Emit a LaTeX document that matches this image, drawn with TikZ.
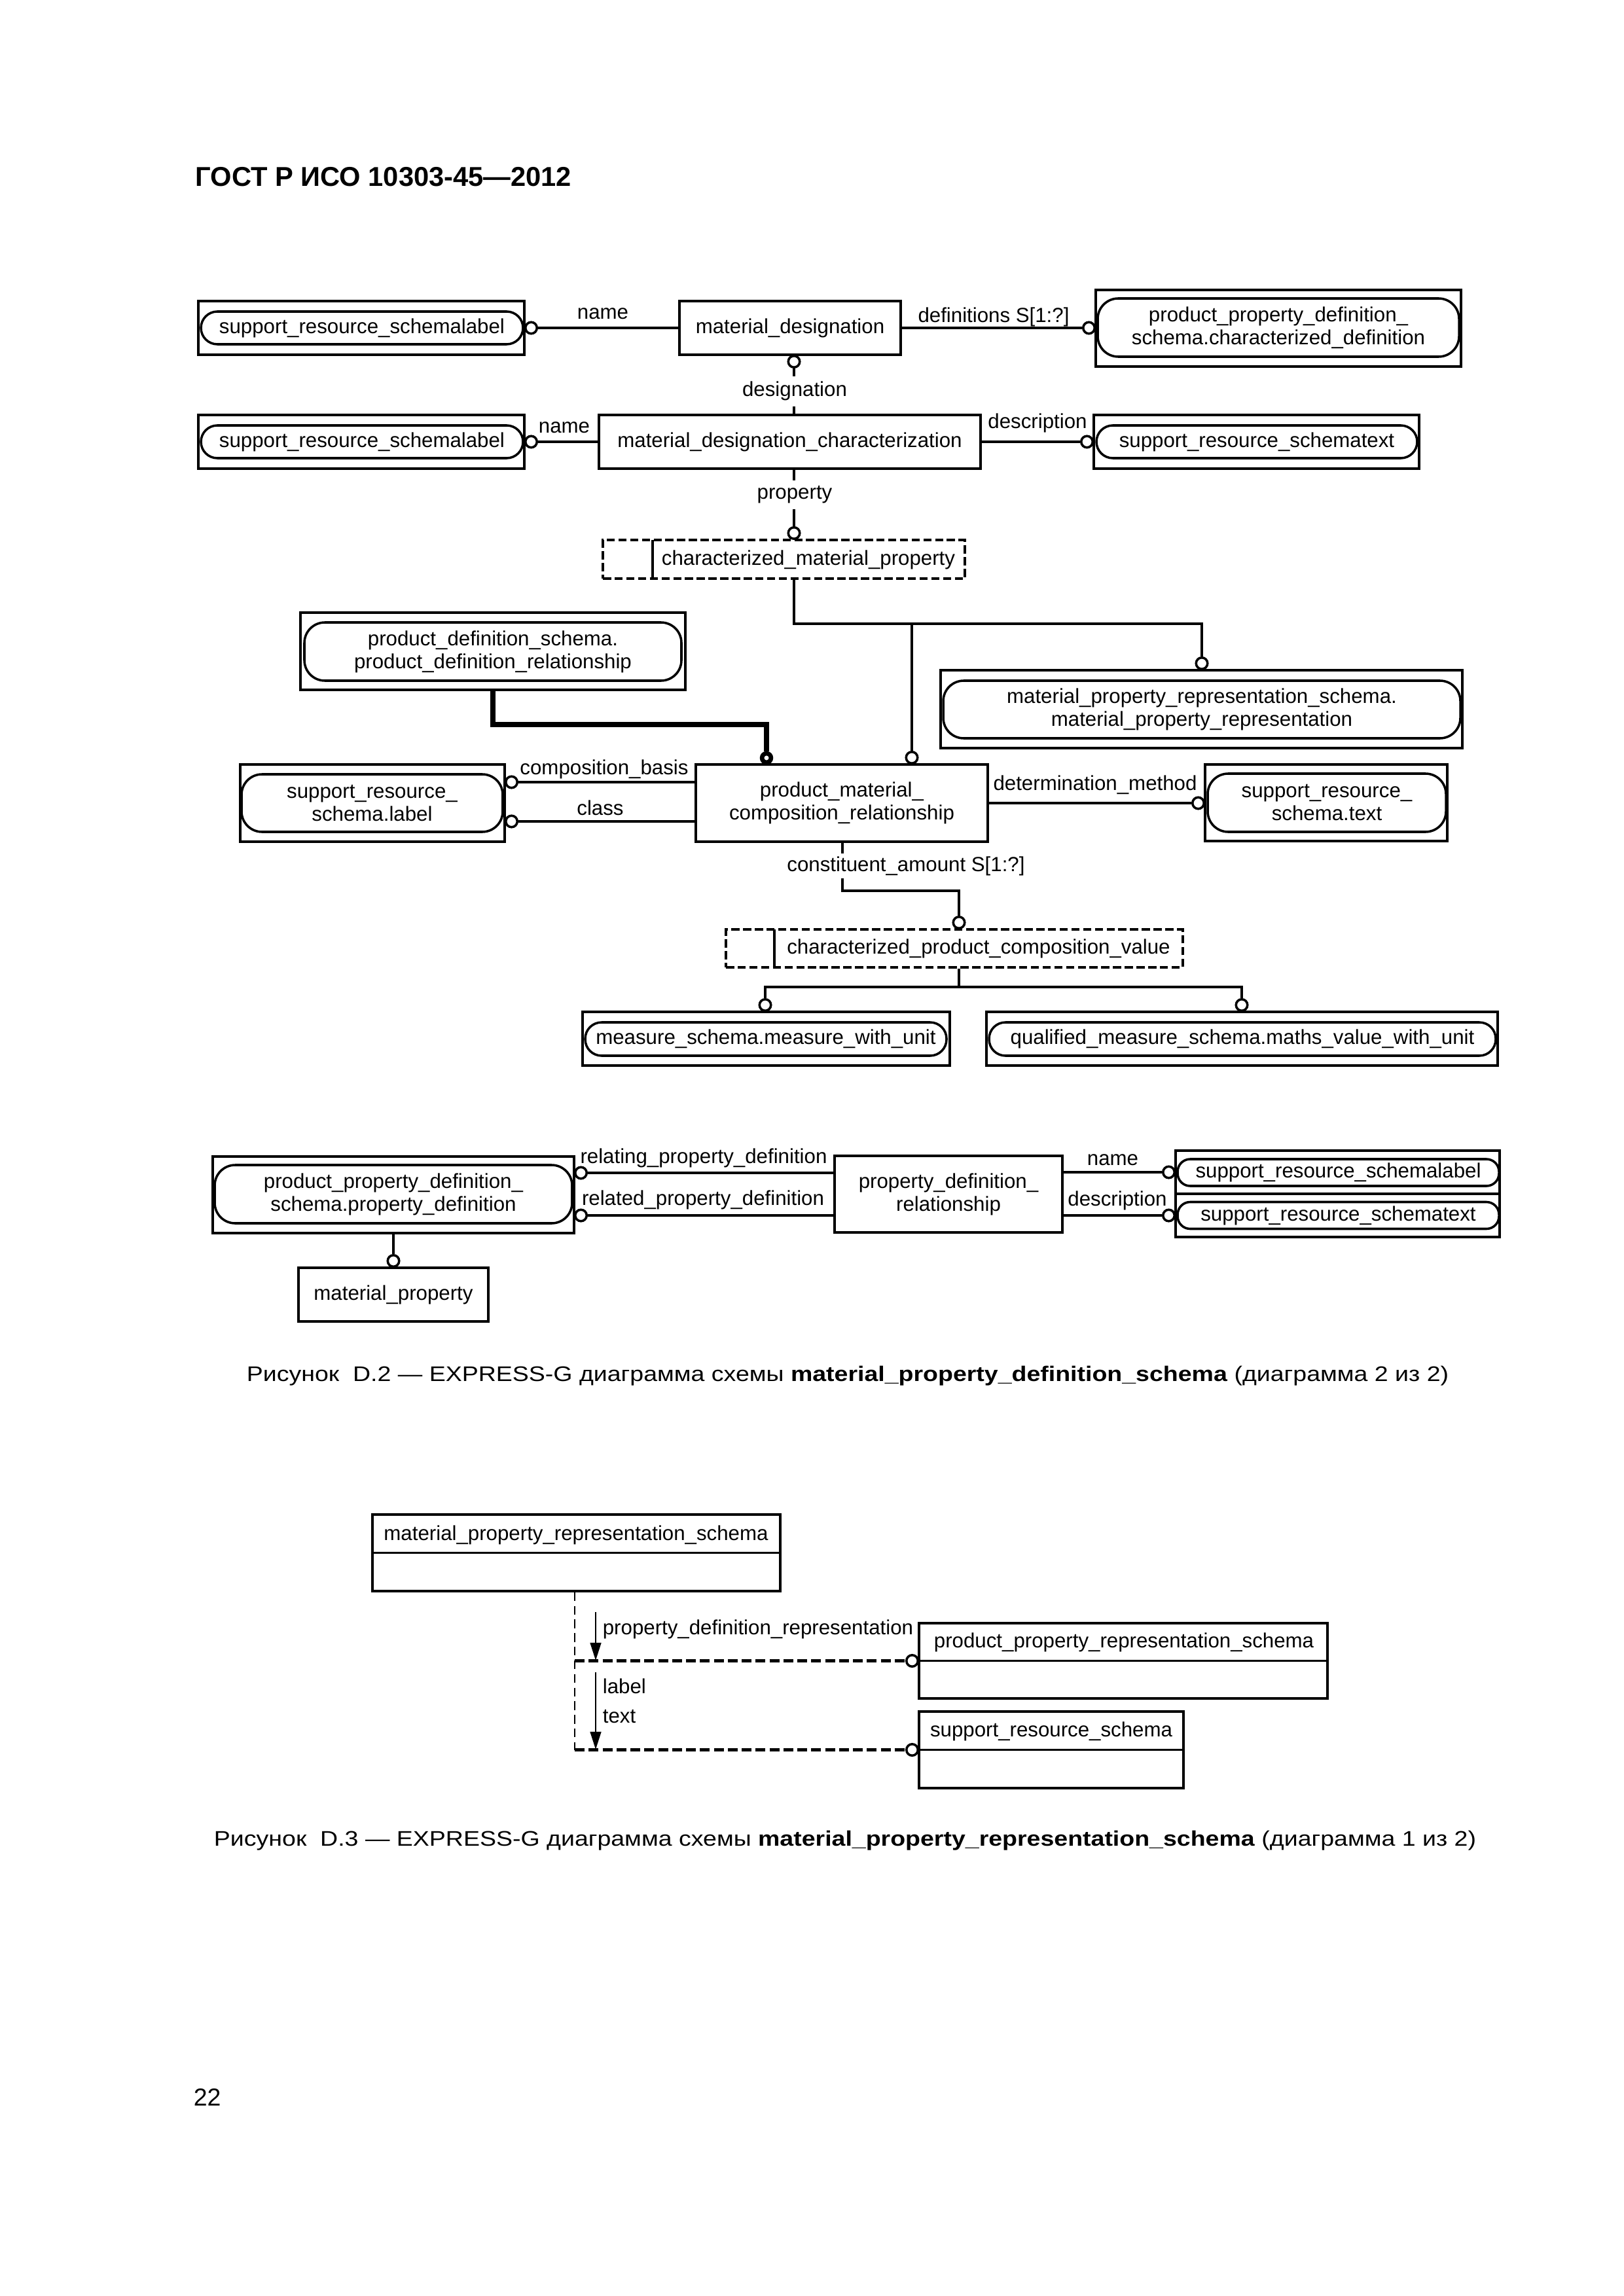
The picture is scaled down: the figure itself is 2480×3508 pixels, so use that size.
\documentclass[tikz,border=0pt]{standalone}
\usepackage{fontspec}
\setmainfont{Liberation Sans}
\usetikzlibrary{arrows.meta}
\begin{document}
\begin{tikzpicture}[x=0.24pt,y=-0.24pt,
  every node/.style={font=\fontsize{7.5}{8.4}\selectfont},
  lw/.style={line width=0.85pt},
  sz/.style 2 args={minimum width=#1*0.24pt, minimum height=#2*0.24pt},
  ent/.style={draw, lw, inner sep=0pt, align=center},
  rnd/.style={draw, lw, inner sep=0pt, align=center, rounded corners=6pt},
  rndb/.style={draw, lw, inner sep=0pt, align=center, rounded corners=7.5pt},
  rnds/.style={draw, lw, inner sep=0pt, align=center, rounded corners=4.6pt},
  dbox/.style={draw, lw, dash pattern=on 3pt off 1.3pt, inner sep=0pt},
  circ/.style={circle, draw, lw, fill=white, inner sep=0pt, minimum size=4.2pt},
  tcirc/.style={circle, draw, line width=1.6pt, fill=white, inner sep=0pt, minimum size=3.3pt},
  lbl/.style={inner sep=0pt, anchor=base},
  wlbl/.style={inner xsep=1pt, inner ysep=2pt, anchor=base, fill=white},
  conn/.style={lw},
  thk/.style={line width=1.7pt},
  vdash/.style={line width=0.6pt, dash pattern=on 3.2pt off 1.8pt},
  hdash/.style={line width=1pt, dash pattern=on 3.6pt off 1.5pt},
  arr/.style={line width=0.6pt, -{Triangle[length=6.5pt,width=4pt]}},
  capt/.style={inner sep=0pt, anchor=base, font=\fontsize{9}{11}\selectfont},
]
\fill[white] (0,0) rectangle (2480,3508);
\useasboundingbox (0,0) rectangle (2480,3508);

% header
\node[inner sep=0pt, anchor=base west, font=\fontsize{10}{12}\selectfont\bfseries] (hdr) at (298,285) {ГОСТ Р ИСО 10303-45—2012};

% ---------- row 1
\node[ent, sz={498}{82}] (A) at (552,501) {};
\node[rnd, sz={492}{50}] (Ai) at (553,501) {support\_resource\_schemalabel};
\node[ent, sz={338}{82}] (MD) at (1207,501) {material\_designation};
\node[ent, sz={558}{117}] (C) at (1953,501.5) {};
\node[rndb, sz={552}{89}] (Ci) at (1953,500.5) {product\_property\_definition\_\\schema.characterized\_definition};
\node[circ] (cA) at (811.5,501) {};
\node[circ] (cC) at (1663.5,501) {};
\draw[conn] (MD.west) -- (cA);
\draw[conn] (MD.east) -- (cC);
\node[lbl] (lname1) at (921,488) {name};
\node[lbl] (ldef) at (1518,493) {definitions S[1:?]};

% ---------- row 2
\node[ent, sz={498}{82}] (B) at (552,675) {};
\node[rnd, sz={492}{50}] (Bi) at (553,675) {support\_resource\_schemalabel};
\node[ent, sz={583}{82}] (MDC) at (1206.5,675) {material\_designation\_characterization};
\node[ent, sz={497}{82}] (D) at (1919.5,675) {};
\node[rnd, sz={490}{50}] (Di) at (1920,675) {support\_resource\_schematext};
\node[circ] (cB) at (811.5,675) {};
\node[circ] (cD) at (1660.5,675) {};
\draw[conn] (MDC.west) -- (cB);
\draw[conn] (MDC.east) -- (cD);
\node[lbl] (lname2) at (862,662) {name};
\node[lbl] (ldesc1) at (1585,655) {description};

\node[circ] (cMD) at (1213,552.5) {};
\draw[conn] (cMD) -- (cMD |- MDC.north);
\node[wlbl] (ldesig) at (1214,606) {designation};

% ---------- characterized_material_property
\node[dbox, sz={553}{59}] (CMP) at (1197.5,854.5) {};
\coordinate (cmpd1) at (997,825);
\coordinate (cmpd2) at (997,884);
\draw[conn] (cmpd1) -- (cmpd2);
\node[lbl] (tCMP) at (1235,864) {characterized\_material\_property};
\node[circ] (cCMP) at (1213,814.5) {};
\draw[conn] (MDC.south -| cCMP) -- (cCMP);
\node[wlbl] (lprop) at (1214,763) {property};

% ---------- mpr / pdr
\node[ent, sz={797}{119}] (E) at (1835.5,1083.5) {};
\node[rndb, sz={790}{88}] (Ei) at (1836,1084) {material\_property\_representation\_schema.\\material\_property\_representation};
\node[ent, sz={588}{118}] (F) at (753,995) {};
\node[rndb, sz={576}{89}] (Fi) at (753,995.5) {product\_definition\_schema.\\product\_definition\_relationship};

% ---------- row pmcr
\node[ent, sz={404}{118}] (G) at (569,1227) {};
\node[rndb, sz={399}{88}] (Gi) at (568.5,1227) {support\_resource\_\\schema.label};
\node[ent, sz={446}{118}] (PM) at (1286,1227) {product\_material\_\\composition\_relationship};
\node[ent, sz={370}{117}] (H) at (2026,1226.5) {};
\node[rndb, sz={364}{89}] (Hi) at (2027,1226.5) {support\_resource\_\\schema.text};

\node[circ] (cE) at (1836,1013.5) {};
\node[circ] (cPM) at (1393,1157.5) {};
\coordinate (j1) at (1213,953);
\coordinate (j2) at (1393,953);
\draw[conn] (CMP.south -| j1) -- (j1) -- (j1 -| cE) -- (cE);
\draw[conn] (j2) -- (cPM);

\node[tcirc] (cF) at (1171,1158) {};
\coordinate (j3) at (753,1107);
\draw[thk] (F.south) -- (j3) -| (cF);

\node[circ] (cG1) at (781.5,1195) {};
\node[circ] (cG2) at (781.5,1255) {};
\draw[conn] (PM.west |- cG1) -- (cG1);
\draw[conn] (PM.west |- cG2) -- (cG2);
\node[lbl] (lcomp) at (923,1183) {composition\_basis};
\node[lbl] (lclass) at (917,1245) {class};

\node[circ] (cH) at (1830.5,1227) {};
\draw[conn] (PM.east |- cH) -- (cH);
\node[lbl] (ldet) at (1673,1207) {determination\_method};

% ---------- characterized_product_composition_value
\node[dbox, sz={698}{58}] (CP) at (1458,1449) {};
\coordinate (cpd1) at (1183,1420);
\coordinate (cpd2) at (1183,1478);
\draw[conn] (cpd1) -- (cpd2);
\node[lbl] (tCP) at (1495,1457) {characterized\_product\_composition\_value};
\node[circ] (cCP) at (1465,1409.5) {};
\coordinate (j4) at (1287,1361);
\draw[conn] (PM.south -| j4) -- (j4) -| (cCP);
\node[wlbl, inner ysep=1pt] (lconst) at (1384,1331) {constituent\_amount S[1:?]};

\node[ent, sz={561}{82}] (I) at (1170.5,1587) {};
\node[rnd, sz={552}{51}] (Ii) at (1170,1587.5) {measure\_schema.measure\_with\_unit};
\node[ent, sz={781}{82}] (J) at (1897.5,1587) {};
\node[rnd, sz={774}{51}] (Ji) at (1898,1587.5) {qualified\_measure\_schema.maths\_value\_with\_unit};
\node[circ] (cI) at (1169,1535.5) {};
\node[circ] (cJ) at (1897,1535.5) {};
\coordinate (j5) at (1465,1508);
\draw[conn] (CP.south -| j5) -- (j5);
\draw[conn] (cI) -- (cI |- j5) -- (cJ |- j5) -- (cJ);

% ---------- property_definition_relationship part
\node[ent, sz={552}{117}] (K) at (601,1825.5) {};
\node[rndb, sz={546}{89}] (Ki) at (601,1824.5) {product\_property\_definition\_\\schema.property\_definition};
\node[ent, sz={290}{82}] (MP) at (601,1978) {material\_property};
\node[circ] (cMP) at (601,1926.5) {};
\draw[conn] (K.south) -- (cMP);
\node[ent, sz={348}{117}] (PDR) at (1449,1824.5) {property\_definition\_\\relationship};
\node[circ] (cK1) at (887.5,1792) {};
\node[circ] (cK2) at (887.5,1857) {};
\draw[conn] (PDR.west |- cK1) -- (cK1);
\draw[conn] (PDR.west |- cK2) -- (cK2);
\node[lbl] (lrelating) at (1075,1777) {relating\_property\_definition};
\node[lbl] (lrelated) at (1074,1841) {related\_property\_definition};

\node[ent, sz={495}{66}] (L1) at (2043.5,1791) {};
\node[ent, sz={495}{66}] (L2) at (2043.5,1857) {};
\node[rnds, sz={491}{41}] (L1i) at (2044.5,1791.5) {support\_resource\_schemalabel};
\node[rnds, sz={491}{41}] (L2i) at (2044.5,1857) {support\_resource\_schematext};
\node[circ] (cL1) at (1785.5,1791) {};
\node[circ] (cL2) at (1785.5,1857) {};
\draw[conn] (PDR.east |- cL1) -- (cL1);
\draw[conn] (PDR.east |- cL2) -- (cL2);
\node[lbl] (lname3) at (1700,1780) {name};
\node[lbl] (ldesc2) at (1707,1842) {description};

\node[capt] (cap2) at (1295,2110) {\scalebox{1}[0.86]{Рисунок\ \ D.2 — EXPRESS-G диаграмма схемы \textbf{material\_property\_definition\_schema} (диаграмма 2 из 2)}};

% ---------- D.3
\node[ent, sz={623}{117}] (M) at (880.5,2372.5) {};
\draw[conn] (M.west) -- (M.east);
\node[lbl] (tM) at (880,2353) {material\_property\_representation\_schema};
\node[ent, sz={624}{115}] (N) at (1716,2537.5) {};
\draw[conn] (N.west) -- (N.east);
\node[lbl] (tN) at (1717,2517) {product\_property\_representation\_schema};
\node[ent, sz={404}{117}] (O) at (1606,2673.5) {};
\draw[conn] (O.west) -- (O.east);
\node[lbl] (tO) at (1606,2653) {support\_resource\_schema};

\node[circ] (cN) at (1393.5,2537.5) {};
\node[circ] (cO) at (1393.5,2673.5) {};
\coordinate (k1) at (878,2537.5);
\coordinate (k2) at (878,2673.5);
\draw[vdash] (M.south -| k1) -- (k2);
\draw[hdash] (k1) -- (cN);
\draw[hdash] (k2) -- (cO);

\coordinate (a1s) at (910,2463);
\coordinate (a1e) at (910,2537);
\coordinate (a2s) at (910,2555);
\coordinate (a2e) at (910,2673);
\draw[arr] (a1s) -- (a1e);
\draw[arr] (a2s) -- (a2e);
\node[lbl, anchor=base west] (lpdr) at (920,2497) {property\_definition\_representation};
\node[lbl, anchor=base west] (llabel) at (920,2587) {label};
\node[lbl, anchor=base west] (ltext) at (920,2632) {text};

\node[capt] (cap3) at (1291,2820) {\scalebox{1}[0.86]{Рисунок\ \ D.3 — EXPRESS-G диаграмма схемы \textbf{material\_property\_representation\_schema} (диаграмма 1 из 2)}};

\node[capt, anchor=base west] (pg) at (295,3217) {22};
\end{tikzpicture}
\end{document}
